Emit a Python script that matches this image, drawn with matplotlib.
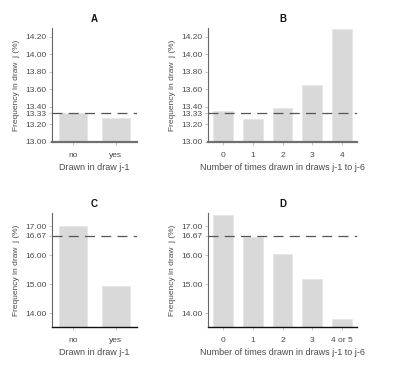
import matplotlib
matplotlib.use("Agg")
import matplotlib.pyplot as plt

plt.rcParams['font.family'] = ['Liberation Sans', 'DejaVu Sans']

# panel A / C: drawn in previous draw
cats_prev = ["no", "yes"]
freq_a = [13.335, 13.27]
freq_c = [17.01, 14.93]

# panel B / D: number of times drawn in previous six draws
cats_b = ["0", "1", "2", "3", "4"]
freq_b = [13.355, 13.26, 13.39, 13.65, 14.29]
cats_d = ["0", "1", "2", "3", "4 or 5"]
freq_d = [17.40, 16.63, 16.04, 15.17, 13.80]

ticks_ab = [13.00, 13.20, 13.33, 13.40, 13.60, 13.80, 14.00, 14.20]
ticks_cd = [14.00, 15.00, 16.00, 16.67, 17.00]
ref_ab = 13.33
ref_cd = 16.67

W, H = 395, 368
fig = plt.figure(figsize=(W / 100, H / 100), dpi=100)

def make_ax(l, r, t, b):
    return fig.add_axes([l / W, 1 - b / H, (r - l) / W, (b - t) / H])

txt = "#4a4a4a"
bar_col = "#d9d9d9"

def panel(ax, cats, vals, ref, ticks, ylim, title, xlabel, bottom_col, bottom_lw):
    x = range(len(cats))
    ax.bar(x, [v - ylim[0] for v in vals], bottom=ylim[0], width=0.67,
           color=bar_col, edgecolor="#e6e6e6", linewidth=0.6, zorder=2)
    ax.axhline(ref, color="#555555", lw=0.9, dashes=(8, 5), zorder=3)
    ax.set_xlim(-0.5, len(cats) - 0.5)
    ax.set_ylim(*ylim)
    ax.set_xticks(list(x))
    ax.set_xticklabels(cats)
    ax.set_yticks(ticks)
    ax.set_yticklabels(["%.2f" % t for t in ticks])
    for s in ["top", "right"]:
        ax.spines[s].set_visible(False)
    ax.spines["left"].set_color("#666666")
    ax.spines["left"].set_linewidth(0.8)
    ax.spines["bottom"].set_color(bottom_col)
    ax.spines["bottom"].set_linewidth(bottom_lw)
    ax.tick_params(axis="y", labelsize=6, colors="#aaaaaa", labelcolor=txt,
                   length=2, width=0.5, pad=2)
    ax.tick_params(axis="x", labelsize=6, colors="#aaaaaa", labelcolor=txt,
                   length=2, width=0.5, pad=5)
    ax.set_title(title, fontsize=7, fontweight="bold", pad=4, color="#111111")
    ax.set_xlabel(xlabel, fontsize=6.5, color=txt, labelpad=3)
    ax.set_ylabel("Frequency in draw  j (%)", fontsize=6, color=txt, labelpad=4)

ax_a = make_ax(52, 137, 28, 142)
ax_b = make_ax(208, 357, 28, 142)
ax_c = make_ax(52, 137, 213, 327)
ax_d = make_ax(208, 357, 213, 327)

panel(ax_a, cats_prev, freq_a, ref_ab, ticks_ab, (13.0, 14.30), "A",
      "Drawn in draw j-1", "#707070", 1.6)
panel(ax_b, cats_b, freq_b, ref_ab, ticks_ab, (13.0, 14.30), "B",
      "Number of times drawn in draws j-1 to j-6", "#707070", 1.6)
panel(ax_c, cats_prev, freq_c, ref_cd, ticks_cd, (13.52, 17.46), "C",
      "Drawn in draw j-1", "#111111", 1.0)
panel(ax_d, cats_d, freq_d, ref_cd, ticks_cd, (13.52, 17.46), "D",
      "Number of times drawn in draws j-1 to j-6", "#111111", 1.0)

fig.savefig("out.png", dpi=100)
